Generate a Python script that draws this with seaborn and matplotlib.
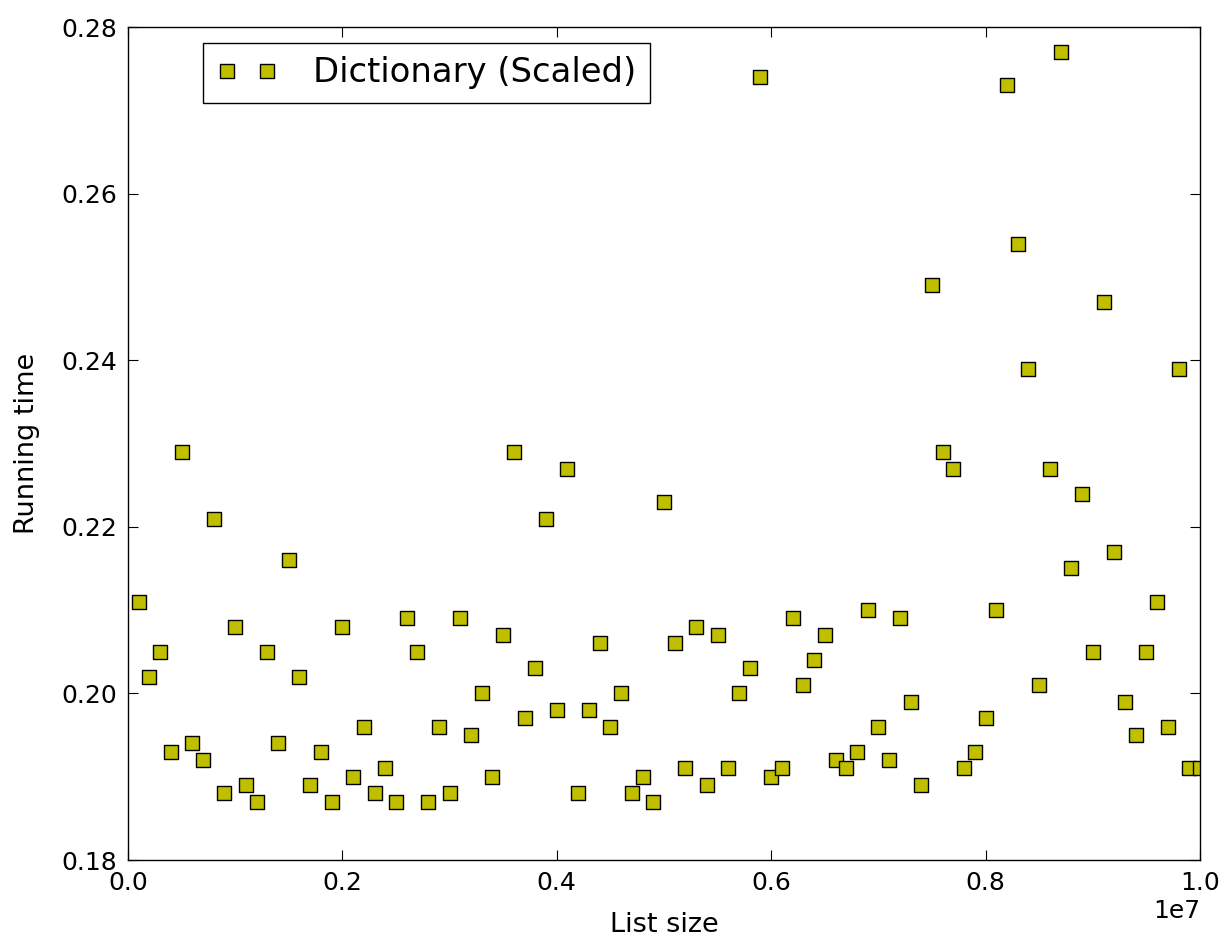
import matplotlib
matplotlib.use("Agg")
import matplotlib.pyplot as plt
import numpy as np
import pandas as pd
import seaborn as sns

# list sizes: 1e5 .. 1e7 step 1e5
list_size = [i * 100000 for i in range(1, 101)]

running_time = [
    0.211, 0.202, 0.205, 0.193, 0.229, 0.194, 0.192, 0.221, 0.188, 0.208,
    0.189, 0.187, 0.205, 0.194, 0.216, 0.202, 0.189, 0.193, 0.187, 0.208,
    0.190, 0.196, 0.188, 0.191, 0.187, 0.209, 0.205, 0.187, 0.196, 0.188,
    0.209, 0.195, 0.200, 0.190, 0.207, 0.229, 0.197, 0.203, 0.221, 0.198,
    0.227, 0.188, 0.198, 0.206, 0.196, 0.200, 0.188, 0.190, 0.187, 0.223,
    0.206, 0.191, 0.208, 0.189, 0.207, 0.191, 0.200, 0.203, 0.274, 0.190,
    0.191, 0.209, 0.201, 0.204, 0.207, 0.192, 0.191, 0.193, 0.210, 0.196,
    0.192, 0.209, 0.199, 0.189, 0.249, 0.229, 0.227, 0.191, 0.193, 0.197,
    0.210, 0.273, 0.254, 0.239, 0.201, 0.227, 0.277, 0.215, 0.224, 0.205,
    0.247, 0.217, 0.199, 0.195, 0.205, 0.211, 0.196, 0.239, 0.191, 0.191,
]

series_label = "Dictionary (Scaled)"
y_ticks = [0.18, 0.20, 0.22, 0.24, 0.26, 0.28]

sns.set_style("ticks")
plt.rcParams["font.family"] = ["DejaVu Sans"]
plt.rcParams.update({
    "xtick.direction": "in",
    "ytick.direction": "in",
    "xtick.top": True,
    "ytick.right": True,
    "xtick.major.size": 7,
    "ytick.major.size": 7,
    "xtick.major.pad": 8,
    "ytick.major.pad": 8,
    "axes.edgecolor": "black",
    "axes.linewidth": 1.0,
    "text.color": "black",
    "axes.labelcolor": "black",
    "xtick.color": "black",
    "ytick.color": "black",
})

df = pd.DataFrame({"List size": list_size, "Running time": running_time})

fig = plt.figure(figsize=(12.28, 9.43), dpi=100)
ax = fig.add_axes([0.1042, 0.088, 0.873, 0.8833])

sns.scatterplot(
    data=df, x="List size", y="Running time", ax=ax,
    marker="s", s=110, color=(0.75, 0.75, 0.0),
    edgecolor="black", linewidth=1.0, label=series_label,
)

ax.set_xlim(0, 1e7)
ax.set_ylim(0.18, 0.28)
ax.set_yticks(y_ticks)
ax.set_xticks(np.arange(0, 1.01e7, 2e6))
ax.tick_params(labelsize=18)
ax.xaxis.get_offset_text().set_fontsize(18)
ax.set_xlabel("List size", fontsize=19.5)
ax.set_ylabel("Running time", fontsize=19.5)
ax.yaxis.set_label_coords(-0.082, 0.5)
ax.xaxis.set_label_coords(0.5, -0.062)

leg = ax.legend(
    loc="upper left", bbox_to_anchor=(0.07, 0.981), scatterpoints=2,
    scatteryoffsets=[0.5, 0.5], fontsize=24.4, frameon=True, fancybox=False,
    borderaxespad=0.0, handlelength=1.8, handletextpad=1.05, markerscale=0.95,
)
leg.get_frame().set_edgecolor("black")
leg.get_frame().set_linewidth(1.0)
leg.get_frame().set_alpha(1.0)

fig.savefig("out.png", dpi=100)
